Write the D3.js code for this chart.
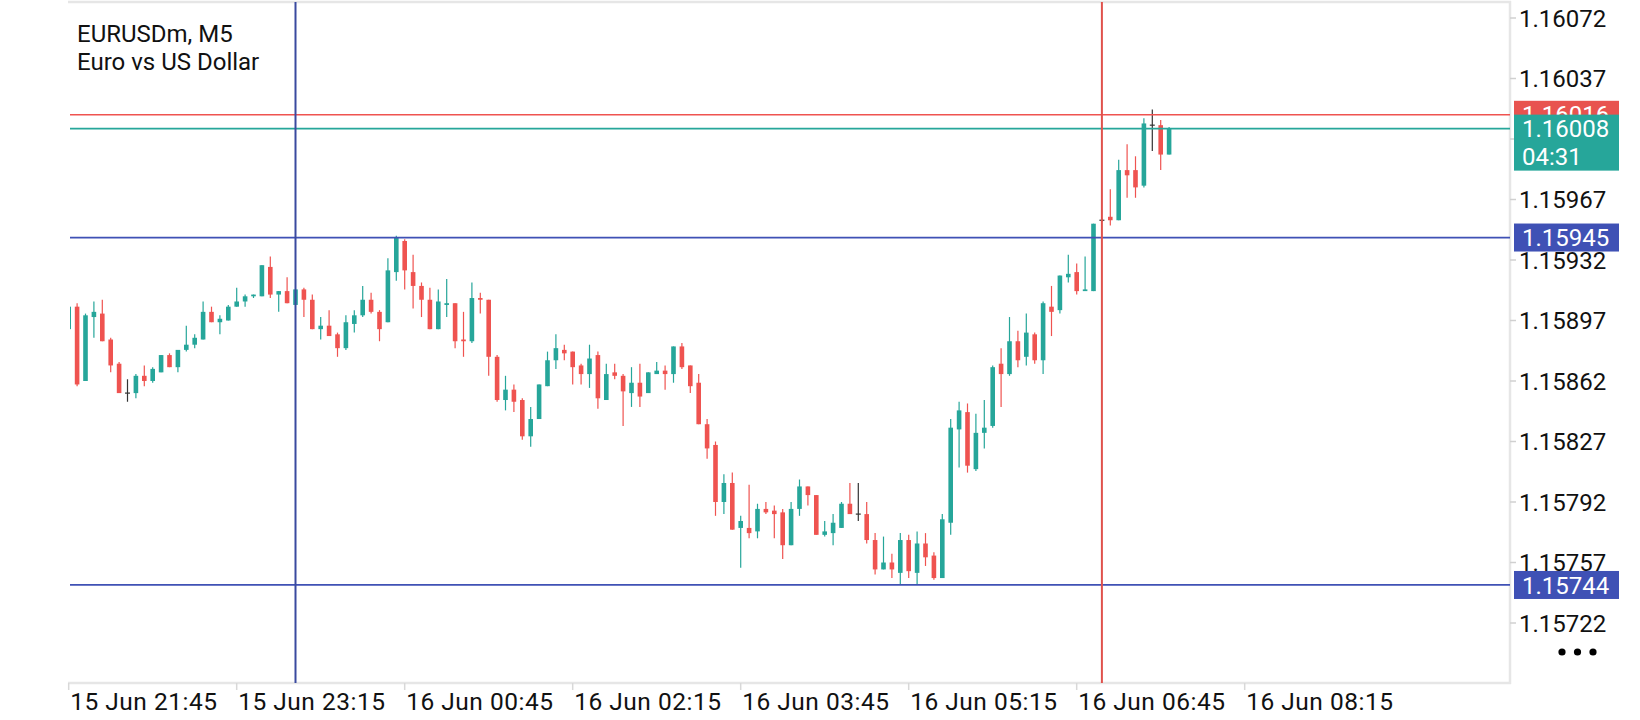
<!DOCTYPE html>
<html>
<head>
<meta charset="utf-8">
<script src="https://cdn.jsdelivr.net/npm/d3@7"></script>
<style>
  body { margin: 0; background: #fff; }
  svg { display: block; font-family: Roboto, "Noto Sans", sans-serif; }
</style>
</head>
<body>
<svg id="chart" width="1640" height="720"></svg>
<script>

// EURUSDm M5 bars, oldest first
let opens = [
  1.15892,1.15905,1.15862,1.15899,1.15901,1.15886,1.15872,1.15855,1.15855,1.15865,
  1.15862,1.15867,1.15877,1.15870,1.15880,1.15883,1.15886,1.15902,1.15896,1.15897,
  1.15905,1.15908,1.15911,1.15911,1.15928,1.15912,1.15914,1.15906,1.15915,1.15909,
  1.15892,1.15894,1.15889,1.15881,1.15895,1.15900,1.15909,1.15902,1.15896,1.15925,
  1.15943,1.15925,1.15917,1.15909,1.15892,1.15906,1.15907,1.15886,1.15885,1.15910,
  1.15909,1.15876,1.15851,1.15857,1.15851,1.15830,1.15840,1.15859,1.15874,1.15880,
  1.15879,1.15871,1.15866,1.15877,1.15851,1.15867,1.15865,1.15855,1.15861,1.15855,
  1.15866,1.15868,1.15866,1.15882,1.15871,1.15861,1.15837,1.15825,1.15792,1.15803,
  1.15777,1.15777,1.15775,1.15788,1.15787,1.15786,1.15767,1.15788,1.15801,1.15796,
  1.15773,1.15774,1.15777,1.15791,1.15785,1.15785,1.15770,1.15753,1.15757,1.15751,
  1.15770,1.15751,1.15768,1.15761,1.15748,1.15780,1.15834,1.15844,1.15811,1.15832,
  1.15836,1.15872,1.15866,1.15885,1.15876,1.15889,1.15874,1.15905,1.15903,1.15922,
  1.15925,1.15914,1.15914,1.15955,1.15957,1.15955,1.15984,1.15984,1.15975,1.16010,
  1.16010,1.15993
];
let highs = [
  1.15905,1.15907,1.15901,1.15908,1.15909,1.15887,1.15873,1.15863,1.15866,1.15871,
  1.15870,1.15877,1.15878,1.15880,1.15894,1.15889,1.15908,1.15905,1.15900,1.15906,
  1.15916,1.15912,1.15912,1.15929,1.15934,1.15914,1.15922,1.15915,1.15916,1.15912,
  1.15899,1.15903,1.15890,1.15900,1.15903,1.15917,1.15913,1.15903,1.15933,1.15946,
  1.15944,1.15935,1.15919,1.15916,1.15915,1.15921,1.15907,1.15902,1.15919,1.15913,
  1.15909,1.15877,1.15865,1.15860,1.15852,1.15847,1.15860,1.15879,1.15889,1.15883,
  1.15879,1.15872,1.15883,1.15879,1.15872,1.15872,1.15866,1.15870,1.15872,1.15867,
  1.15873,1.15871,1.15882,1.15884,1.15871,1.15866,1.15840,1.15827,1.15808,1.15809,
  1.15784,1.15802,1.15791,1.15792,1.15790,1.15788,1.15792,1.15805,1.15801,1.15796,
  1.15781,1.15785,1.15792,1.15803,1.15803,1.15792,1.15774,1.15772,1.15762,1.15774,
  1.15773,1.15775,1.15774,1.15763,1.15785,1.15840,1.15850,1.15849,1.15843,1.15851,
  1.15871,1.15881,1.15899,1.15891,1.15901,1.15890,1.15908,1.15917,1.15923,1.15935,
  1.15930,1.15934,1.15953,1.15956,1.15973,1.15990,1.15999,1.15992,1.16014,1.16019,
  1.16013,1.16009
];
let lows = [
  1.15892,1.15859,1.15862,1.15887,1.15885,1.15867,1.15855,1.15850,1.15852,1.15859,
  1.15861,1.15867,1.15870,1.15867,1.15879,1.15881,1.15886,1.15896,1.15889,1.15897,
  1.15905,1.15905,1.15910,1.15911,1.15910,1.15902,1.15907,1.15906,1.15899,1.15892,
  1.15886,1.15888,1.15876,1.15880,1.15890,1.15899,1.15901,1.15885,1.15896,1.15920,
  1.15915,1.15904,1.15899,1.15892,1.15892,1.15899,1.15881,1.15876,1.15884,1.15901,
  1.15865,1.15850,1.15845,1.15844,1.15828,1.15824,1.15840,1.15859,1.15869,1.15874,
  1.15860,1.15860,1.15858,1.15846,1.15851,1.15863,1.15836,1.15847,1.15847,1.15855,
  1.15866,1.15857,1.15861,1.15869,1.15855,1.15837,1.15817,1.15784,1.15785,1.15776,
  1.15754,1.15771,1.15771,1.15785,1.15771,1.15759,1.15767,1.15784,1.15790,1.15773,
  1.15772,1.15767,1.15777,1.15785,1.15781,1.15768,1.15750,1.15753,1.15748,1.15744,
  1.15748,1.15744,1.15755,1.15747,1.15748,1.15773,1.15812,1.15809,1.15810,1.15823,
  1.15835,1.15847,1.15865,1.15870,1.15871,1.15872,1.15866,1.15888,1.15901,1.15919,
  1.15912,1.15914,1.15914,1.15954,1.15952,1.15955,1.15968,1.15968,1.15974,1.15995,
  1.15984,1.15993
];
let closes = [
  1.15905,1.15860,1.15900,1.15902,1.15885,1.15871,1.15855,1.15855,1.15865,1.15862,
  1.15869,1.15877,1.15870,1.15880,1.15883,1.15887,1.15902,1.15896,1.15898,1.15905,
  1.15908,1.15911,1.15912,1.15929,1.15912,1.15914,1.15907,1.15915,1.15909,1.15892,
  1.15894,1.15888,1.15881,1.15896,1.15900,1.15909,1.15902,1.15892,1.15926,1.15945,
  1.15926,1.15917,1.15909,1.15892,1.15908,1.15907,1.15885,1.15885,1.15910,1.15909,
  1.15876,1.15851,1.15857,1.15850,1.15830,1.15840,1.15860,1.15874,1.15881,1.15878,
  1.15870,1.15866,1.15875,1.15852,1.15866,1.15865,1.15856,1.15861,1.15853,1.15867,
  1.15868,1.15866,1.15882,1.15870,1.15859,1.15837,1.15823,1.15792,1.15803,1.15776,
  1.15781,1.15774,1.15788,1.15786,1.15785,1.15767,1.15788,1.15801,1.15796,1.15773,
  1.15775,1.15780,1.15791,1.15785,1.15785,1.15770,1.15753,1.15757,1.15753,1.15770,
  1.15752,1.15768,1.15760,1.15748,1.15782,1.15835,1.15845,1.15813,1.15832,1.15835,
  1.15870,1.15866,1.15885,1.15874,1.15890,1.15874,1.15907,1.15902,1.15923,1.15924,
  1.15914,1.15915,1.15953,1.15955,1.15955,1.15984,1.15981,1.15974,1.16011,1.16010,
  1.15993,1.16008
];

// axis labels
let priceTicks = [1.16072,1.16037,1.16002,1.15967,1.15932,1.15897,1.15862,1.15827,1.15792,1.15757,1.15722];
let timeTickBars = [0,20,40,60,80,100,120,140];
let timeLabels = ["15 Jun 21:45","15 Jun 23:15","16 Jun 00:45","16 Jun 02:15",
                  "16 Jun 03:45","16 Jun 05:15","16 Jun 06:45","16 Jun 08:15"];

// horizontal levels / vertical markers
let blueLevels = [1.15945, 1.15744];
let askPrice = 1.16016;
let bidPrice = 1.16008;
let barTimer = "04:31";
let blueVLineBar = 27;
let redVLineBar = 123;

const green = '#26a69a', red = '#ef5350', blue = '#3f51b5', gray = '#e6e6e6';

const svg = d3.select('#chart');
const plotLeft = 70, plotRight = 1510, plotTop = 2, plotBottom = 683;

const x = d3.scaleLinear().domain([0, 20]).range([68.7, 236.7]);
const y = d3.scaleLinear().domain([1.15722, 1.16072]).range([623, 18]);

let bars = opens.map((o, i) => ({i: i, o: o, h: highs[i], l: lows[i], c: closes[i]}));

svg.append('clipPath').attr('id', 'plotClip')
  .append('rect').attr('x', plotLeft).attr('y', plotTop)
  .attr('width', plotRight - plotLeft).attr('height', plotBottom - plotTop);

// frame
svg.append('line').attr('x1', 68).attr('x2', plotRight + 1).attr('y1', 2).attr('y2', 2)
  .attr('stroke', gray).attr('stroke-width', 2.5);
svg.append('line').attr('x1', plotRight).attr('x2', plotRight).attr('y1', 1).attr('y2', plotBottom + 1)
  .attr('stroke', gray).attr('stroke-width', 2.5);
svg.append('line').attr('x1', 68).attr('x2', plotRight + 1).attr('y1', plotBottom).attr('y2', plotBottom)
  .attr('stroke', gray).attr('stroke-width', 2.5);

let plot = svg.append('g').attr('clip-path', 'url(#plotClip)');

// candles
let colorOf = d => d.c > d.o ? green : (d.c < d.o ? red : '#333');
let candles = plot.selectAll('g.bar')
  .data(bars)
  .join('g').attr('class', 'bar');

candles.append('line')
  .attr('x1', d => x(d.i)).attr('x2', d => x(d.i))
  .attr('y1', d => y(d.h)).attr('y2', d => y(d.l))
  .attr('stroke', colorOf).attr('stroke-width', 1.2);

candles.filter(d => d.c != d.o).append('rect')
  .attr('x', d => x(d.i) - 2.3).attr('width', 4.6)
  .attr('y', d => y(Math.max(d.o, d.c)))
  .attr('height', d => Math.max(1.2, Math.abs(y(d.o) - y(d.c))))
  .attr('fill', colorOf);

candles.filter(d => d.c == d.o).append('line')
  .attr('x1', d => x(d.i) - 2.5).attr('x2', d => x(d.i) + 2.5)
  .attr('y1', d => y(d.o)).attr('y2', d => y(d.o))
  .attr('stroke', '#333').attr('stroke-width', 1.2);

// level lines
plot.selectAll('line.blue-level')
  .data(blueLevels)
  .join('line').attr('class', 'blue-level')
  .attr('x1', plotLeft).attr('x2', plotRight)
  .attr('y1', d => y(d)).attr('y2', d => y(d))
  .attr('stroke', blue).attr('stroke-width', 1.8);

plot.append('line').attr('x1', plotLeft).attr('x2', plotRight)
  .attr('y1', y(askPrice)).attr('y2', y(askPrice))
  .attr('stroke', red).attr('stroke-width', 1.6);
plot.append('line').attr('x1', plotLeft).attr('x2', plotRight)
  .attr('y1', y(bidPrice)).attr('y2', y(bidPrice))
  .attr('stroke', green).attr('stroke-width', 1.6);

plot.append('line').attr('x1', x(blueVLineBar)).attr('x2', x(blueVLineBar))
  .attr('y1', plotTop).attr('y2', plotBottom)
  .attr('stroke', '#3a4a9f').attr('stroke-width', 2);
plot.append('line').attr('x1', x(redVLineBar)).attr('x2', x(redVLineBar))
  .attr('y1', plotTop).attr('y2', plotBottom)
  .attr('stroke', '#e0524c').attr('stroke-width', 2);

// title
svg.append('text').attr('x', 77).attr('y', 42).attr('font-size', 24).attr('fill', '#111')
  .text('EURUSDm, M5');
svg.append('text').attr('x', 77).attr('y', 70).attr('font-size', 24).attr('fill', '#111')
  .text('Euro vs US Dollar');

// price axis (labels that sit under the bid tag are hidden, as in the terminal)
let bidTagTop = y(bidPrice) - 14, bidTagBottom = y(bidPrice) + 42;
let pAxis = svg.append('g');
pAxis.selectAll('line')
  .data(priceTicks)
  .join('line')
  .attr('x1', plotRight).attr('x2', plotRight + 6)
  .attr('y1', d => y(d)).attr('y2', d => y(d))
  .attr('stroke', '#d0d0d0').attr('stroke-width', 1.5);
pAxis.selectAll('text')
  .data(priceTicks.filter(p => y(p) < bidTagTop || y(p) > bidTagBottom))
  .join('text')
  .attr('x', plotRight + 9).attr('y', d => y(d)).attr('dy', '0.36em')
  .attr('font-size', 24).attr('fill', '#111')
  .text(d => d.toFixed(5));

// time axis
let tAxis = svg.append('g');
tAxis.selectAll('line')
  .data(timeTickBars)
  .join('line')
  .attr('x1', d => x(d)).attr('x2', d => x(d))
  .attr('y1', plotBottom).attr('y2', plotBottom + 7)
  .attr('stroke', '#d8d8d8').attr('stroke-width', 1.5);
tAxis.selectAll('text')
  .data(timeTickBars)
  .join('text')
  .attr('x', d => x(d) + 1.5).attr('y', 710)
  .attr('font-size', 24.5).attr('letter-spacing', 0.5).attr('fill', '#111')
  .text((d, i) => timeLabels[i]);

// price tags on the axis
function tag(price, fill, lines) {
  let g = svg.append('g');
  g.append('rect').attr('x', 1514).attr('y', y(price) - 14)
    .attr('width', 105).attr('height', 28 * lines.length).attr('fill', fill);
  lines.forEach((t, k) => {
    g.append('text').attr('x', 1522).attr('y', y(price) + 28 * k).attr('dy', '0.36em')
      .attr('font-size', 24).attr('fill', '#fff').text(t);
  });
}
tag(askPrice, '#e8534f', [askPrice.toFixed(5)]);
tag(bidPrice, green, [bidPrice.toFixed(5), barTimer]);
blueLevels.forEach(p => tag(p, '#3f51b5', [p.toFixed(5)]));

// menu dots
svg.selectAll('circle.dot')
  .data([0, 1, 2])
  .join('circle').attr('class', 'dot')
  .attr('cx', d => 1562 + d * 15.5).attr('cy', 652).attr('r', 3.6)
  .attr('fill', '#000');

</script>
</body>
</html>
